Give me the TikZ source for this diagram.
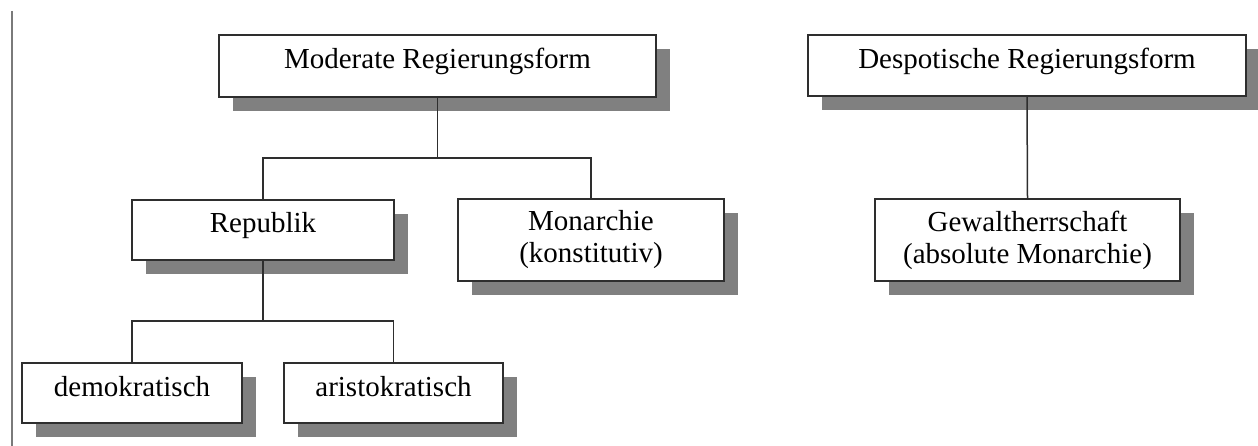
\documentclass[tikz,border=0pt]{standalone}
\usepackage{fontspec}
\setmainfont{Liberation Serif}
\usetikzlibrary{shadows}
\definecolor{shadowgray}{HTML}{808080}
\definecolor{edgegray}{HTML}{2E2E2E}
\definecolor{rulegray}{HTML}{7A7A7A}
\begin{document}
\begin{tikzpicture}[x=1pt,y=-1pt,
  box/.style={draw=edgegray, line width=1.5pt, fill=white, inner sep=0pt,
    font=\fontsize{29}{32}\selectfont, align=center,
    drop shadow={shadow xshift=14pt, shadow yshift=-14pt, opacity=1, fill=shadowgray}},
  oneline/.style={text height=20pt, text depth=14pt},
  link/.style={draw=edgegray, line width=1.5pt}]
\useasboundingbox (0,0) rectangle (1258,446);

% margin rule on the left
\draw[rulegray, line width=2.6pt] (12,11) coordinate (r1) -- (12,446) coordinate (r2);

% boxes
\node[box, oneline, minimum width=437pt, minimum height=62pt] (mod) at (437.5,66) {Moderate Regierungsform};
\node[box, oneline, minimum width=438pt, minimum height=61pt] (des) at (1027,65.5) {Despotische Regierungsform};
\node[box, oneline, minimum width=262pt, minimum height=60pt] (rep) at (263,230) {Republik};
\node[box, minimum width=266pt, minimum height=82pt] (mon) at (591,240) {Monarchie\\(konstitutiv)};
\node[box, minimum width=305pt, minimum height=82pt] (gew) at (1027.5,240) {Gewaltherrschaft\\(absolute Monarchie)};
\node[box, oneline, minimum width=220pt, minimum height=60pt] (dem) at (132,393) {demokratisch};
\node[box, oneline, minimum width=219pt, minimum height=60pt] (ari) at (393.5,393) {aristokratisch};

% junction points of the tree
\coordinate (j1) at (437.5,158);
\coordinate (j2) at (263,321);

% connectors
\draw[link] (mod.south) -- (j1);
\draw[link] (rep.north) |- (j1) -| (mon.north);
\draw[link] (rep.south) -- (j2);
\draw[link] (dem.north) |- (j2) -| (ari.north);
\draw[link] (des.south) -- (gew.north);
\end{tikzpicture}
\end{document}
